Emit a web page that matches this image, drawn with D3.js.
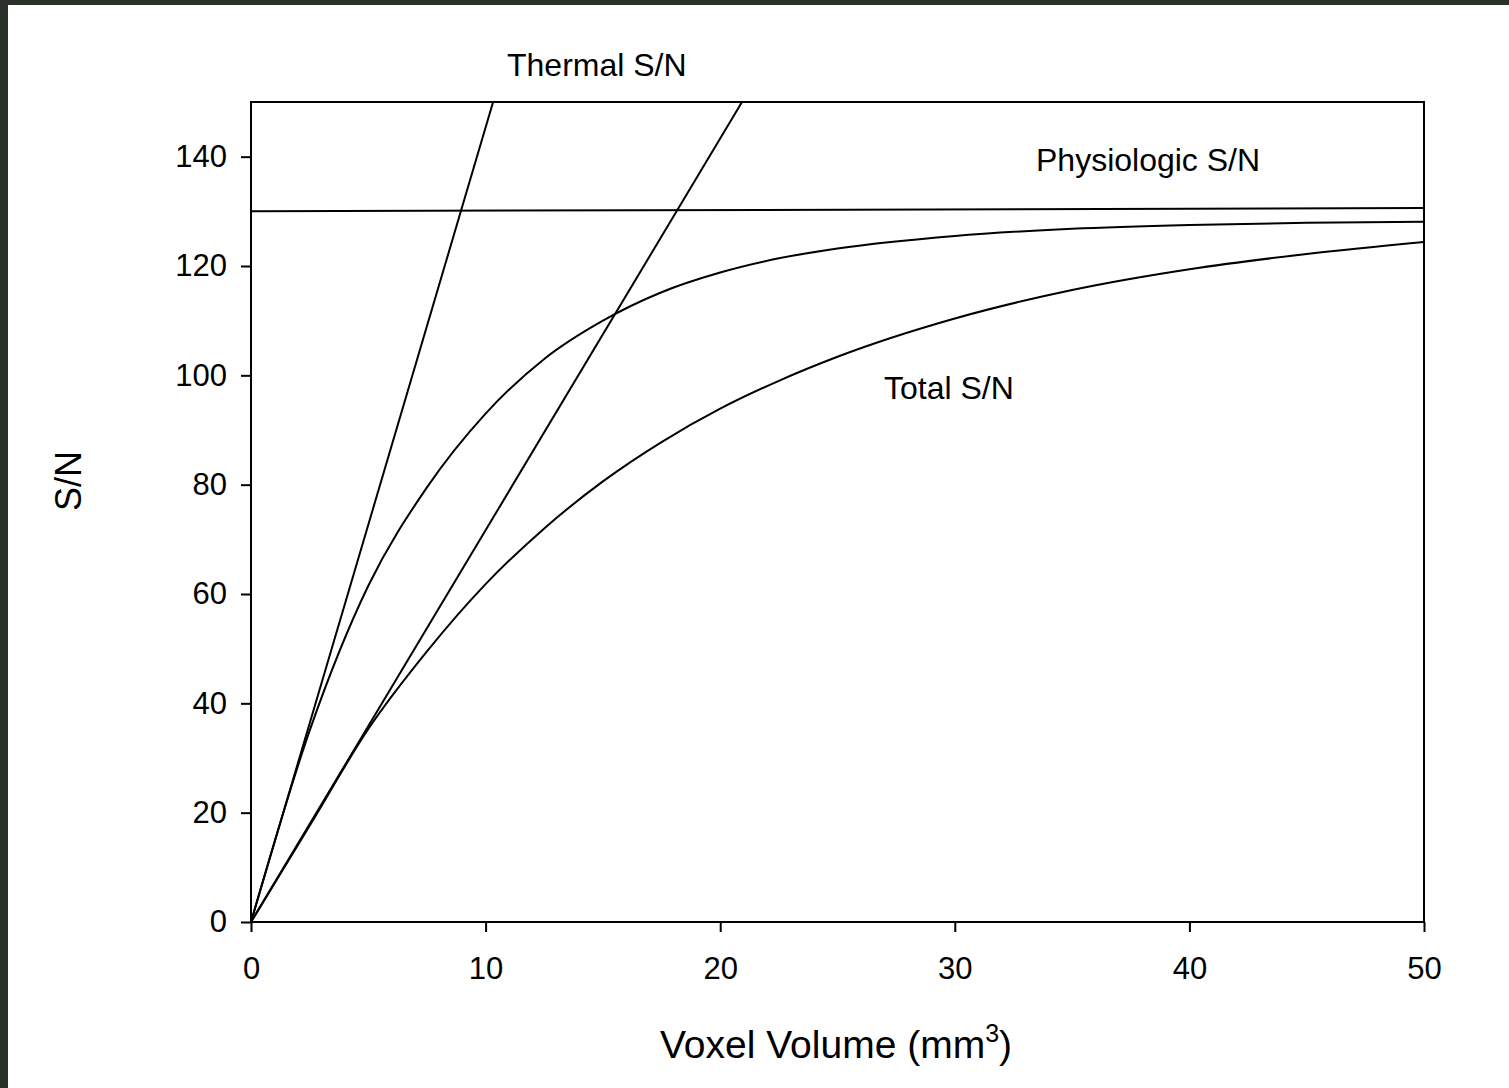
<!DOCTYPE html>
<html>
<head>
<meta charset="utf-8">
<script src="https://cdn.jsdelivr.net/npm/d3@7"></script>
<style>
  body { margin: 0; background: #fff; }
  svg { display: block; font-family: "Liberation Sans", Arial, sans-serif; }
</style>
</head>
<body>
<div class="canvas"></div>
<script>
// values
const volume = [0, 2.5, 5, 7.5, 10, 12.5, 15, 17.5, 20, 22.5, 25, 30, 35, 40, 45, 50];
const totalHigh = [0, 35.0, 61.5, 79.5, 93.0, 103.0, 110.0, 115.2, 118.8, 121.4, 123.2, 125.5, 126.8, 127.5, 127.9, 128.1];
const totalLow = [0, 17.6, 35.3, 49.5, 61.8, 72.0, 80.6, 87.8, 93.9, 99.0, 103.4, 110.4, 115.6, 119.4, 122.2, 124.4];
const thermalHigh = [[0, 0], [10.32, 150]];
const thermalLow = [[0, 0], [20.93, 150]];
const physio = [[0, 130], [50, 130.6]];
const xTicks = [0, 10, 20, 30, 40, 50];
const yTicks = [0, 20, 40, 60, 80, 100, 120, 140];

const width = 1509, height = 1088;
const margin = {top: 102, right: 85, bottom: 166, left: 251};

const svg = d3.select(".canvas")
  .append("svg")
  .attr("width", width)
  .attr("height", height);

// dark page edge
svg.append("rect").attr("width", width).attr("height", height).attr("fill", "#2b302b");
svg.append("rect").attr("x", 8).attr("y", 5).attr("width", width - 8).attr("height", height - 5).attr("fill", "#fff");

const x = d3.scaleLinear().domain([0, 50]).range([margin.left, width - margin.right]);
const y = d3.scaleLinear().domain([0, 150]).range([height - margin.bottom, margin.top]);

svg.append("clipPath").attr("id", "plot")
  .append("rect")
  .attr("x", x(0)).attr("y", y(150))
  .attr("width", x(50) - x(0)).attr("height", y(0) - y(150));

const line = d3.line().x(d => x(d[0])).y(d => y(d[1]));
const smooth = d3.line().x(d => x(d[0])).y(d => y(d[1])).curve(d3.curveMonotoneX);

const g = svg.append("g").attr("clip-path", "url(#plot)")
  .attr("fill", "none").attr("stroke", "#000").attr("stroke-width", 2);

g.append("path").attr("d", line(thermalHigh));
g.append("path").attr("d", line(thermalLow));
g.append("path").attr("d", line(physio));
g.append("path").attr("d", smooth(volume.map((v, i) => [v, totalHigh[i]])));
g.append("path").attr("d", smooth(volume.map((v, i) => [v, totalLow[i]])));

// axes
const xAxis = svg.append("g")
  .attr("transform", `translate(0,${y(0)})`)
  .call(d3.axisBottom(x).tickValues(xTicks).tickSize(10).tickPadding(25).tickSizeOuter(0));
const yAxis = svg.append("g")
  .attr("transform", `translate(${x(0)},0)`)
  .call(d3.axisLeft(y).tickValues(yTicks).tickSize(10).tickPadding(14).tickSizeOuter(0));

[xAxis, yAxis].forEach(a => {
  a.select(".domain").remove();
  a.selectAll("line").attr("stroke", "#000").attr("stroke-width", 2);
  a.selectAll("text").attr("font-size", 31).attr("fill", "#000")
    .attr("font-family", "'Liberation Sans', Arial, sans-serif");
});

// frame
svg.append("rect")
  .attr("x", x(0)).attr("y", y(150))
  .attr("width", x(50) - x(0)).attr("height", y(0) - y(150))
  .attr("fill", "none").attr("stroke", "#000").attr("stroke-width", 2);

// labels
const labels = [
  {text: "Thermal S/N", x: 507, y: 76},
  {text: "Physiologic S/N", x: 1036, y: 171},
  {text: "Total S/N", x: 884, y: 399}
];
svg.selectAll(".lbl").data(labels).enter()
  .append("text").attr("class", "lbl")
  .attr("x", d => d.x).attr("y", d => d.y)
  .attr("font-size", 32).attr("fill", "#000")
  .text(d => d.text);

const xt = svg.append("text")
  .attr("x", 660).attr("y", 1058)
  .attr("font-size", 39).attr("fill", "#000");
xt.append("tspan").text("Voxel Volume (mm");
xt.append("tspan").attr("font-size", 25).attr("dy", -16).text("3");
xt.append("tspan").attr("dy", 16).text(")");

svg.append("text")
  .attr("transform", "translate(81,481) rotate(-90)")
  .attr("text-anchor", "middle").attr("font-size", 36).attr("fill", "#000")
  .text("S/N");
</script>
</body>
</html>
